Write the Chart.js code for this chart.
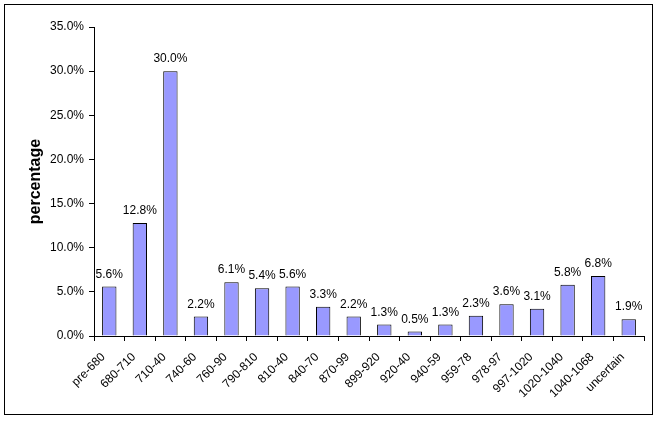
<!DOCTYPE html>
<html><head><meta charset="utf-8">
<script src="https://cdn.jsdelivr.net/npm/chart.js@4/dist/chart.umd.min.js"></script>
<style>html,body{margin:0;padding:0;background:#fff}#wrap{width:659px;height:421px}</style>
</head><body><div id="wrap"><canvas id="c" width="659" height="421"></canvas></div>
<script>
const categories = ["pre-680","680-710","710-40","740-60","760-90","790-810","810-40","840-70","870-99","899-920","920-40","940-59","959-78","978-97","997-1020","1020-1040","1040-1068","uncertain"];
const percentages = [5.6,12.8,30.0,2.2,6.1,5.4,5.6,3.3,2.2,1.3,0.5,1.3,2.3,3.6,3.1,5.8,6.8,1.9];
const yTicks = [0,5,10,15,20,25,30,35];
const FONT = '"Liberation Sans", Arial, sans-serif';

const frame = {
  id:'frame',
  beforeDraw(chart){
    const ctx = chart.ctx;
    ctx.save();
    ctx.fillStyle='#fff';
    ctx.fillRect(0,0,chart.width,chart.height);
    ctx.strokeStyle='#000';
    ctx.lineWidth=1;
    ctx.strokeRect(4.5,4.5,648,410);
    ctx.restore();
  }
};
const labels = {
  id:'labels',
  afterDatasetsDraw(chart){
    const ctx = chart.ctx;
    const meta = chart.getDatasetMeta(0);
    ctx.save();
    ctx.font='12px ' + FONT;
    ctx.fillStyle='#000';
    ctx.textAlign='center';
    ctx.textBaseline='alphabetic';
    meta.data.forEach((bar,i)=>{
      ctx.fillText(percentages[i].toFixed(1)+'%', bar.x, bar.y-9);
    });
    ctx.restore();
  }
};

new Chart(document.getElementById('c'),{
  type:'bar',
  data:{labels:categories,datasets:[{data:percentages,backgroundColor:'#9999FF',borderColor:'#000',borderWidth:1,categoryPercentage:1,barPercentage:0.47}]},
  options:{
    responsive:false,animation:false,devicePixelRatio:1,
    layout:{padding:{left:26,top:27,right:15,bottom:0}},
    plugins:{legend:{display:false},tooltip:{enabled:false}},
    scales:{
      x:{
        grid:{display:true,drawOnChartArea:false,drawTicks:true,tickLength:5,color:'#000',offset:true},
        border:{color:'#000',width:1},
        ticks:{color:'#000',font:{family:FONT,size:12},maxRotation:45,minRotation:45,autoSkip:false,padding:9,labelOffset:-6},
        afterFit(s){s.height=85;}
      },
      y:{
        min:0,max:35,
        afterBuildTicks(s){s.ticks=yTicks.map(v=>({value:v}));},
        grid:{display:true,drawOnChartArea:false,drawTicks:true,tickLength:5,color:'#000'},
        border:{color:'#000',width:1},
        ticks:{color:'#000',font:{family:FONT,size:12},padding:5,callback:v=>v.toFixed(1)+'%'},
        title:{display:true,text:'percentage',color:'#000',font:{family:FONT,size:16,weight:'bold'},padding:{top:0,bottom:0}},
        afterFit(s){s.width=68;}
      }
    }
  },
  plugins:[frame,labels]
});
</script></body></html>
